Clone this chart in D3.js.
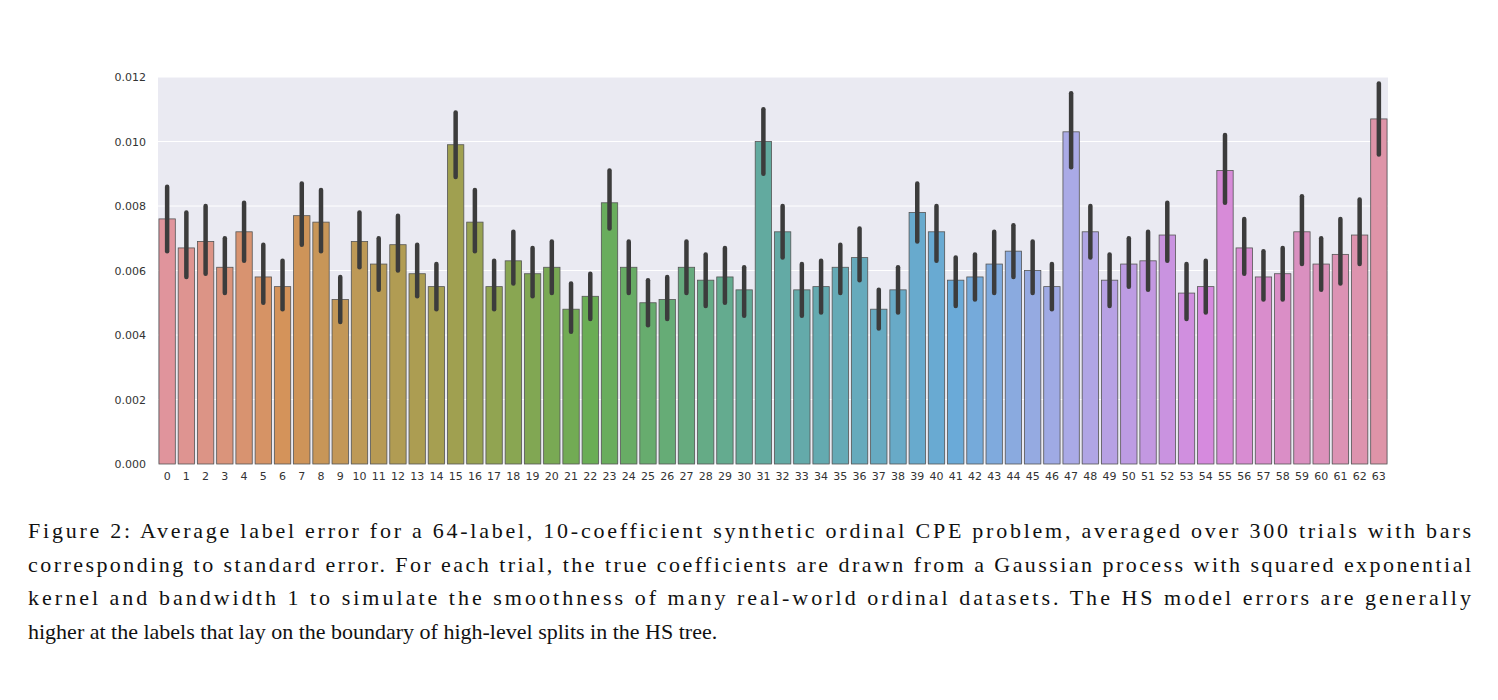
<!DOCTYPE html>
<html>
<head>
<meta charset="utf-8">
<script src="https://cdn.jsdelivr.net/npm/d3@7"></script>
<style>
  body { margin: 0; background: #fff; }
  svg { display: block; }
</style>
</head>
<body>
<svg id="chart" width="1498" height="700"></svg>
<script>
// mean label error per label, with lower / upper standard-error bounds
const labels = d3.range(64).map(String);
const means = [
  0.0076, 0.0067, 0.0069, 0.0061, 0.0072, 0.0058, 0.0055, 0.0077, 0.0075, 0.0051,
  0.0069, 0.0062, 0.0068, 0.0059, 0.0055, 0.0099, 0.0075, 0.0055, 0.0063, 0.0059,
  0.0061, 0.0048, 0.0052, 0.0081, 0.0061, 0.0050, 0.0051, 0.0061, 0.0057, 0.0058,
  0.0054, 0.0100, 0.0072, 0.0054, 0.0055, 0.0061, 0.0064, 0.0048, 0.0054, 0.0078,
  0.0072, 0.0057, 0.0058, 0.0062, 0.0066, 0.0060, 0.0055, 0.0103, 0.0072, 0.0057,
  0.0062, 0.0063, 0.0071, 0.0053, 0.0055, 0.0091, 0.0067, 0.0058, 0.0059, 0.0072,
  0.0062, 0.0065, 0.0071, 0.0107
];
const lows = [
  0.0066, 0.0058, 0.0059, 0.0053, 0.0063, 0.0050, 0.0048, 0.0068, 0.0066, 0.0044,
  0.0061, 0.0054, 0.0060, 0.0052, 0.0048, 0.0089, 0.0066, 0.0048, 0.0056, 0.0052,
  0.0053, 0.0041, 0.0045, 0.0073, 0.0053, 0.0043, 0.0045, 0.0053, 0.0049, 0.0050,
  0.0046, 0.0090, 0.0064, 0.0046, 0.0047, 0.0053, 0.0057, 0.0042, 0.0047, 0.0069,
  0.0063, 0.0049, 0.0051, 0.0053, 0.0058, 0.0053, 0.0048, 0.0092, 0.0064, 0.0049,
  0.0055, 0.0054, 0.0063, 0.0045, 0.0047, 0.0081, 0.0059, 0.0051, 0.0051, 0.0062,
  0.0054, 0.0056, 0.0062, 0.0096
];
const highs = [
  0.0086, 0.0078, 0.0080, 0.0070, 0.0081, 0.0068, 0.0063, 0.0087, 0.0085, 0.0058,
  0.0078, 0.0070, 0.0077, 0.0068, 0.0062, 0.0109, 0.0085, 0.0063, 0.0072, 0.0067,
  0.0069, 0.0056, 0.0059, 0.0091, 0.0069, 0.0057, 0.0058, 0.0069, 0.0065, 0.0067,
  0.0061, 0.0110, 0.0080, 0.0062, 0.0063, 0.0068, 0.0073, 0.0054, 0.0061, 0.0087,
  0.0080, 0.0064, 0.0065, 0.0072, 0.0074, 0.0069, 0.0062, 0.0115, 0.0080, 0.0065,
  0.0070, 0.0072, 0.0081, 0.0062, 0.0063, 0.0102, 0.0076, 0.0066, 0.0067, 0.0083,
  0.0070, 0.0076, 0.0082, 0.0118
];
const yTicks = [0, 0.002, 0.004, 0.006, 0.008, 0.010, 0.012];

// palette stops (label index -> colour), husl-like sweep
const colorStops = [0, 6, 15, 22, 31, 41, 47, 54, 63];
const colorValues = ["#e0949c", "#d4935a", "#a0a050", "#6aad55", "#62aa9f", "#6aaad8", "#aaaae6", "#d68ade", "#de94a8"];

const captionLines = [
  "Figure 2:  Average label error for a 64-label, 10-coefficient synthetic ordinal CPE problem, averaged over 300 trials with bars",
  "corresponding to standard error. For each trial, the true coefficients are drawn from a Gaussian process with squared exponential",
  "kernel and bandwidth 1 to simulate the smoothness of many real-world ordinal datasets. The HS model errors are generally",
  "higher at the labels that lay on the boundary of high-level splits in the HS tree."
];

const svg = d3.select("#chart");
const plotLeft = 158, plotRight = 1388, plotTop = 77, plotBottom = 464;

const x = d3.scaleBand().domain(labels).range([plotLeft, plotRight]).paddingInner(0.15).paddingOuter(0.05);
const y = d3.scaleLinear().domain([0, 0.012]).range([plotBottom, plotTop]);
const color = d3.scaleLinear().domain(colorStops).range(colorValues).interpolate(d3.interpolateRgb);

svg.append("rect")
  .attr("x", plotLeft).attr("y", plotTop)
  .attr("width", plotRight - plotLeft).attr("height", plotBottom - plotTop)
  .attr("fill", "#eaeaf2");

svg.append("g").selectAll("line")
  .data(yTicks)
  .enter().append("line")
  .attr("x1", plotLeft).attr("x2", plotRight)
  .attr("y1", (d) => y(d)).attr("y2", (d) => y(d))
  .attr("stroke", "#fff").attr("stroke-width", 1);

const yAxis = svg.append("g")
  .attr("transform", `translate(${plotLeft},0)`)
  .call(d3.axisLeft(y).tickValues(yTicks).tickFormat(d3.format(".3f")).tickSize(0).tickPadding(12));
yAxis.select(".domain").remove();
yAxis.selectAll("text").attr("font-family", "DejaVu Sans").attr("font-size", 11).attr("fill", "#333");

const xAxis = svg.append("g")
  .attr("transform", `translate(0,${plotBottom})`)
  .call(d3.axisBottom(x).tickSize(0).tickPadding(8));
xAxis.select(".domain").remove();
xAxis.selectAll("text").attr("font-family", "DejaVu Sans").attr("font-size", 11).attr("fill", "#333");

svg.append("g").selectAll("rect")
  .data(means)
  .enter().append("rect")
  .attr("x", (d, i) => x(labels[i]))
  .attr("y", (d) => y(d))
  .attr("width", x.bandwidth())
  .attr("height", (d) => plotBottom - y(d))
  .attr("fill", (d, i) => color(i))
  .attr("stroke", "#555").attr("stroke-width", 0.8);

svg.append("g").selectAll("line")
  .data(means)
  .enter().append("line")
  .attr("x1", (d, i) => x(labels[i]) + x.bandwidth() / 2)
  .attr("x2", (d, i) => x(labels[i]) + x.bandwidth() / 2)
  .attr("y1", (d, i) => y(lows[i]))
  .attr("y2", (d, i) => y(highs[i]))
  .attr("stroke", "#3c3c3c").attr("stroke-width", 4.5).attr("stroke-linecap", "round");

svg.append("g").selectAll("text")
  .data(captionLines)
  .enter().append("text")
  .attr("x", 28)
  .attr("y", (d, i) => 538 + i * 33.5)
  .attr("font-family", "Liberation Serif").attr("font-size", 22).attr("fill", "#111")
  .attr("textLength", (d, i) => i < captionLines.length - 1 ? 1443 : null)
  .attr("lengthAdjust", "spacing")
  .text((d) => d);
</script>
</body>
</html>
